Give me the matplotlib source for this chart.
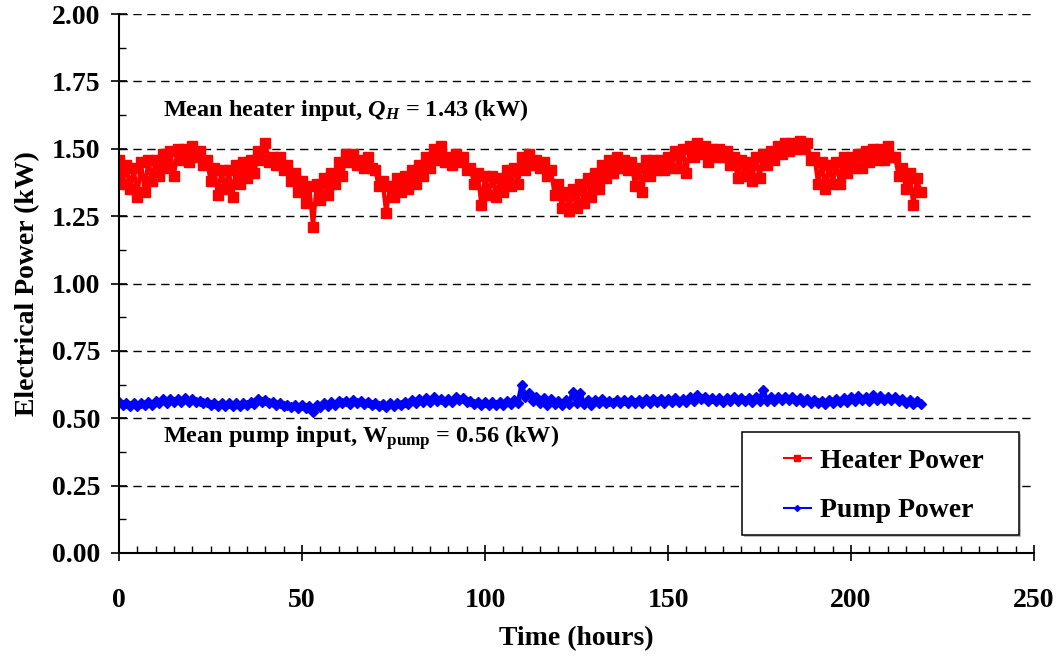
import matplotlib.pyplot as plt
import numpy as np
from matplotlib.ticker import MultipleLocator
from matplotlib.patches import Rectangle

plt.rcParams['font.family'] = ['Liberation Serif', 'DejaVu Serif']
plt.rcParams['font.weight'] = 'bold'
plt.rcParams['mathtext.fontset'] = 'custom'
plt.rcParams['mathtext.rm'] = 'Liberation Serif:bold'
plt.rcParams['mathtext.it'] = 'Liberation Serif:bold:italic'
plt.rcParams['mathtext.bf'] = 'Liberation Serif:bold'

# potencia del calentador (kW): envolvente alta en horas pares, baja en horas impares
heater_hi = [1.46, 1.44, 1.43, 1.45, 1.46, 1.46, 1.48, 1.49, 1.50, 1.50,
             1.51, 1.49, 1.46, 1.43, 1.42, 1.42, 1.44, 1.45, 1.46, 1.49,
             1.52, 1.47, 1.47, 1.44, 1.41, 1.38, 1.36, 1.37, 1.39, 1.41,
             1.45, 1.48, 1.48, 1.46, 1.47, 1.42, 1.38, 1.36, 1.39, 1.40,
             1.42, 1.44, 1.47, 1.50, 1.51, 1.47, 1.48, 1.47, 1.43, 1.41,
             1.40, 1.40, 1.39, 1.42, 1.43, 1.47, 1.48, 1.46, 1.45, 1.42,
             1.37, 1.34, 1.35, 1.37, 1.39, 1.41, 1.44, 1.46, 1.47, 1.46,
             1.45, 1.43, 1.46, 1.46, 1.46, 1.47, 1.49, 1.50, 1.51, 1.52,
             1.51, 1.50, 1.50, 1.49, 1.47, 1.46, 1.45, 1.47, 1.48, 1.49,
             1.51, 1.52, 1.52, 1.53, 1.52, 1.47, 1.45, 1.44, 1.45, 1.47,
             1.47, 1.48, 1.49, 1.50, 1.50, 1.51, 1.47, 1.43, 1.41, 1.39]
heater_lo = [1.37, 1.35, 1.32, 1.34, 1.38, 1.40, 1.43, 1.40, 1.46, 1.45,
             1.47, 1.44, 1.38, 1.33, 1.35, 1.32, 1.37, 1.39, 1.41, 1.46,
             1.45, 1.44, 1.42, 1.38, 1.34, 1.30, 1.21, 1.31, 1.33, 1.37,
             1.40, 1.45, 1.44, 1.43, 1.43, 1.36, 1.26, 1.32, 1.34, 1.35,
             1.37, 1.40, 1.43, 1.46, 1.45, 1.44, 1.45, 1.42, 1.37, 1.29,
             1.33, 1.32, 1.34, 1.36, 1.37, 1.42, 1.44, 1.43, 1.40, 1.33,
             1.28, 1.27, 1.28, 1.30, 1.32, 1.35, 1.39, 1.41, 1.43, 1.42,
             1.36, 1.34, 1.40, 1.42, 1.42, 1.43, 1.43, 1.41, 1.47, 1.48,
             1.45, 1.47, 1.47, 1.44, 1.39, 1.40, 1.38, 1.39, 1.44, 1.46,
             1.48, 1.49, 1.50, 1.50, 1.46, 1.37, 1.35, 1.37, 1.37, 1.41,
             1.43, 1.43, 1.45, 1.46, 1.46, 1.47, 1.40, 1.35, 1.29, 1.34]

# potencia de la bomba (kW), mismo esquema
pump_hi = [0.560, 0.555, 0.555, 0.555, 0.560, 0.565, 0.570, 0.570, 0.572, 0.575,
           0.572, 0.565, 0.560, 0.555, 0.555, 0.557, 0.555, 0.558, 0.562, 0.570,
           0.568, 0.560, 0.555, 0.550, 0.548, 0.550, 0.545, 0.550, 0.556, 0.560,
           0.565, 0.565, 0.566, 0.565, 0.560, 0.556, 0.552, 0.555, 0.558, 0.562,
           0.566, 0.570, 0.575, 0.578, 0.572, 0.572, 0.580, 0.575, 0.565, 0.562,
           0.560, 0.560, 0.562, 0.563, 0.566, 0.622, 0.595, 0.580, 0.575, 0.570,
           0.565, 0.568, 0.598, 0.594, 0.566, 0.568, 0.570, 0.565, 0.568, 0.566,
           0.566, 0.567, 0.570, 0.572, 0.570, 0.572, 0.575, 0.572, 0.580, 0.585,
           0.578, 0.576, 0.575, 0.575, 0.577, 0.576, 0.575, 0.580, 0.605, 0.578,
           0.578, 0.580, 0.578, 0.575, 0.570, 0.568, 0.565, 0.568, 0.572, 0.575,
           0.578, 0.582, 0.580, 0.585, 0.583, 0.580, 0.578, 0.572, 0.568, 0.565]
pump_lo = [0.550, 0.545, 0.545, 0.548, 0.550, 0.555, 0.558, 0.560, 0.560, 0.562,
           0.560, 0.555, 0.548, 0.545, 0.545, 0.546, 0.547, 0.548, 0.552, 0.560,
           0.558, 0.550, 0.545, 0.540, 0.538, 0.537, 0.525, 0.540, 0.545, 0.550,
           0.555, 0.553, 0.555, 0.553, 0.550, 0.545, 0.540, 0.545, 0.548, 0.552,
           0.556, 0.560, 0.562, 0.565, 0.560, 0.562, 0.566, 0.562, 0.553, 0.550,
           0.550, 0.550, 0.550, 0.552, 0.555, 0.580, 0.565, 0.555, 0.550, 0.552,
           0.550, 0.552, 0.555, 0.552, 0.550, 0.555, 0.558, 0.555, 0.556, 0.555,
           0.555, 0.556, 0.558, 0.560, 0.558, 0.560, 0.562, 0.560, 0.565, 0.570,
           0.565, 0.563, 0.562, 0.563, 0.565, 0.563, 0.562, 0.565, 0.565, 0.565,
           0.566, 0.567, 0.565, 0.562, 0.558, 0.555, 0.552, 0.556, 0.560, 0.562,
           0.565, 0.566, 0.565, 0.568, 0.567, 0.566, 0.563, 0.558, 0.553, 0.552]

# horas: alta en pares, baja en impares
horas = np.arange(2 * len(heater_hi))
heater = np.empty(len(horas))
heater[0::2] = heater_hi
heater[1::2] = heater_lo
pump = np.empty(len(horas))
pump[0::2] = pump_hi
pump[1::2] = pump_lo

fig = plt.figure(figsize=(10.61, 6.61), dpi=100)
ax = fig.add_axes([0.1122, 0.1634, 0.8624, 0.8154])

ax.plot(horas, heater, color="red", marker="s", markersize=6.5, linewidth=3,
        label="Heater Power")
ax.plot(horas, pump, color="blue", marker="D", markersize=5, linewidth=3.5,
        label="Pump Power")

ax.set_xlim(0, 250)
ax.set_ylim(0, 2.0)
ax.xaxis.set_major_locator(MultipleLocator(50))
ax.xaxis.set_minor_locator(MultipleLocator(5))
ax.yaxis.set_major_locator(MultipleLocator(0.25))
ax.yaxis.set_minor_locator(MultipleLocator(0.125))
ax.yaxis.set_major_formatter(lambda v, p: f"{v:.2f}")

ax.tick_params(which="major", direction="inout", length=11, width=1.2,
               labelsize=20)
ax.tick_params(which="minor", direction="in", length=5, width=1)
ax.tick_params(axis="x", which="major", pad=20)
ax.tick_params(axis="y", which="major", pad=8)

ax.spines["top"].set_visible(False)
ax.spines["right"].set_visible(False)
ax.spines["left"].set_linewidth(1.5)
ax.spines["bottom"].set_linewidth(1.5)

# lineas punteadas horizontales
for y in np.arange(0.25, 2.01, 0.25):
    ax.axhline(y, color="black", linestyle=(0, (6, 4)), linewidth=1, zorder=0)

ax.set_xlabel("Time (hours)", fontsize=20, fontweight="bold", labelpad=9)
ax.set_ylabel("Electrical Power (kW)", fontsize=20, fontweight="bold", labelpad=8)

ax.text(12, 1.645, r"Mean heater input, $Q_H$ = 1.43 (kW)", fontsize=17.5,
        fontweight="bold", va="center")
ax.text(12, 0.43, r"Mean pump input, W$_{\rm pump}$ = 0.56 (kW)", fontsize=17.5,
        fontweight="bold", va="center")

# cuadro de la leyenda con sombra
ax.add_patch(Rectangle((0.683, 0.030), 0.3025, 0.1911, transform=ax.transAxes,
                       facecolor="#bdbdbd", edgecolor="none", zorder=4))
ax.add_patch(Rectangle((0.681, 0.0334), 0.3025, 0.1911, transform=ax.transAxes,
                       facecolor="white", edgecolor="black", linewidth=1.1,
                       zorder=5))
leg = ax.legend(loc="center", bbox_to_anchor=(0.8355, 0.1243), fontsize=20,
                handlelength=1.0, handletextpad=0.3, labelspacing=0.85,
                markerscale=0.6, frameon=False)
leg.set_zorder(6)
for h in leg.get_lines():
    h.set_linewidth(1.5)

fig.savefig("out.png", dpi=100)
